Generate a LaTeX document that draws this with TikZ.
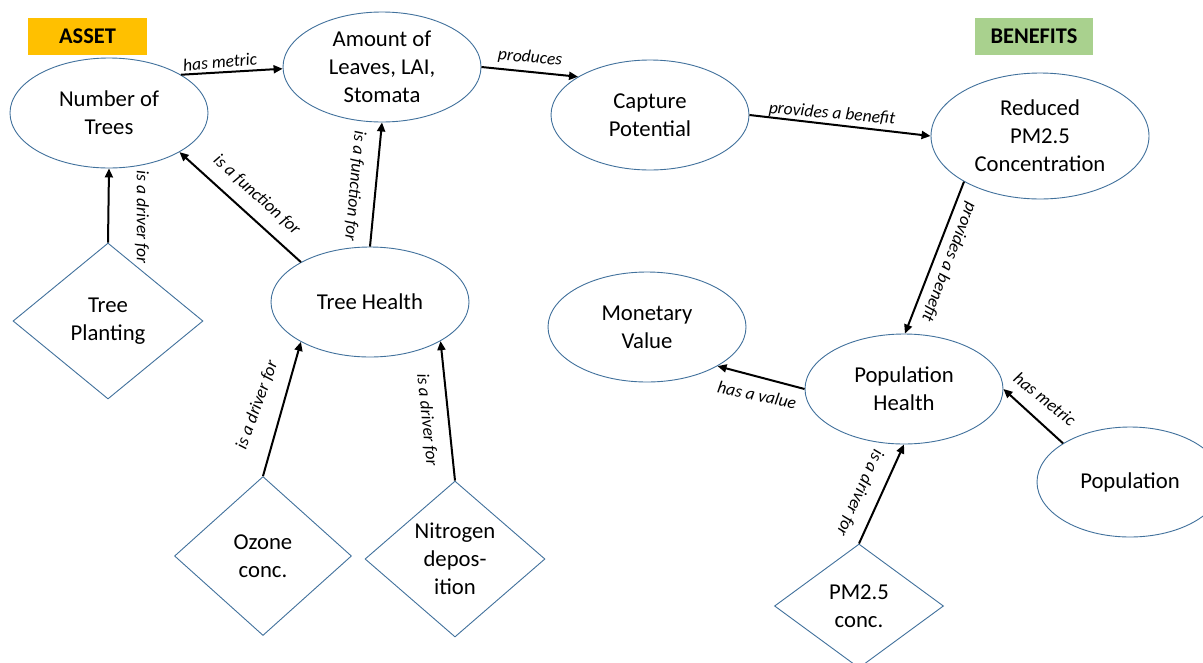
\documentclass[tikz,border=0pt]{standalone}
\usepackage{fontspec}
\setmainfont{Carlito}
\usetikzlibrary{shapes.geometric,arrows.meta}
\definecolor{outl}{HTML}{41719C}
\definecolor{assetc}{HTML}{FFC000}
\definecolor{benc}{HTML}{A9D18E}
\begin{document}
\begin{tikzpicture}[x=1pt,y=-1pt,
  ell/.style={ellipse,draw=outl,line width=0.9pt,inner sep=0pt,minimum width=198pt,minimum height=110pt,align=center,font=\fontsize{22.7}{28}\selectfont},
  dia/.style={diamond,draw=outl,line width=0.9pt,inner sep=0pt},
  dtxt/.style={align=center,inner sep=0pt,font=\fontsize{22.7}{28}\selectfont},
  rel/.style={font=\itshape\fontsize{17.5}{20}\selectfont,inner sep=0pt},
  arr/.style={line width=2pt,-{Triangle[length=9pt,width=8pt]}},
  tag/.style={font=\bfseries\fontsize{22.4}{26}\selectfont,inner sep=0pt,minimum height=37pt}
]
\useasboundingbox (0,0) rectangle (1203,662);
\fill[white] (0,0) rectangle (1203,662);

% category tags
\node[tag,fill=assetc,minimum width=119pt] (asset) at (87.5,36.5) {ASSET};
\node[tag,fill=benc,minimum width=118pt] (benefits) at (1034,36.5) {BENEFITS};

% ellipses
\node[ell] (nt) at (109,113) {Number of\\Trees};
\node[ell] (al) at (382,67) {Amount of\\Leaves, LAI,\\Stomata};
\node[ell] (cp) at (650,115) {Capture\\Potential};
\node[ell,minimum width=218pt,minimum height=126pt] (rp) at (1040,136) {Reduced\\PM2.5\\Concentration};
\node[ell] (th) at (370,302) {Tree Health};
\node[ell] (mv) at (647,327) {Monetary\\Value};
\node[ell] (ph) at (904,389) {Population\\Health};
\node[ell,minimum width=186pt] (po) at (1130,482) {Population};

% diamonds
\node[dia,minimum width=190pt,minimum height=156pt,label={[dtxt]center:{Tree\\Planting}}] (tp) at (108,321) {};
\node[dia,minimum width=177pt,minimum height=159pt,label={[dtxt]center:{Ozone\\conc.}}] (oz) at (263,556) {};
\node[dia,minimum width=180pt,minimum height=156pt,label={[dtxt]center:{Nitrogen\\depos-\\ition}}] (ni) at (455,559) {};
\node[dia,minimum width=169pt,minimum height=124pt,label={[dtxt]center:{PM2.5\\conc.}}] (pm) at (859,606) {};

% connectors
\draw[arr] (nt.28) -- (al.181);
\draw[arr] (al.0) -- (cp.152);
\draw[arr] (cp.0) -- (rp.180.5);
\draw[arr] (rp.211) -- (ph.89);
\draw[arr] (ph.180) -- (mv.-29.4);
\draw[arr] (po.150) -- (ph.0);
\draw[arr] (pm.north) -- (ph.270);
\draw[arr] (tp.north) -- (nt.270);
\draw[arr] (th.150.5) -- (nt.-29.4);
\draw[arr] (th.90) -- (al.270);
\draw[arr] (oz.north) -- (th.210.4);
\draw[arr] (ni.north) -- (th.-29.7);

% connector labels
\node[rel,rotate=5] (l1) at (220,62) {has metric};
\node[rel,rotate=-5] (l2) at (530,58) {produces};
\node[rel,rotate=-5] (l3) at (832,114) {provides a benefit};
\node[rel,rotate=-111] (l4) at (949,262) {provides a benefit};
\node[rel,rotate=-12] (l5) at (757,395) {has a value};
\node[rel,rotate=-39] (l6) at (1045,399) {has metric};
\node[rel,rotate=-114] (l7) at (860,493) {is a driver for};
\node[rel,rotate=-90] (l8) at (142,217) {is a driver for};
\node[rel,rotate=-42] (l9) at (257,195) {is a function for};
\node[rel,rotate=-95] (l10) at (355,186) {is a function for};
\node[rel,rotate=70] (l11) at (257,405) {is a driver for};
\node[rel,rotate=-84] (l12) at (427,420) {is a driver for};
\end{tikzpicture}
\end{document}
